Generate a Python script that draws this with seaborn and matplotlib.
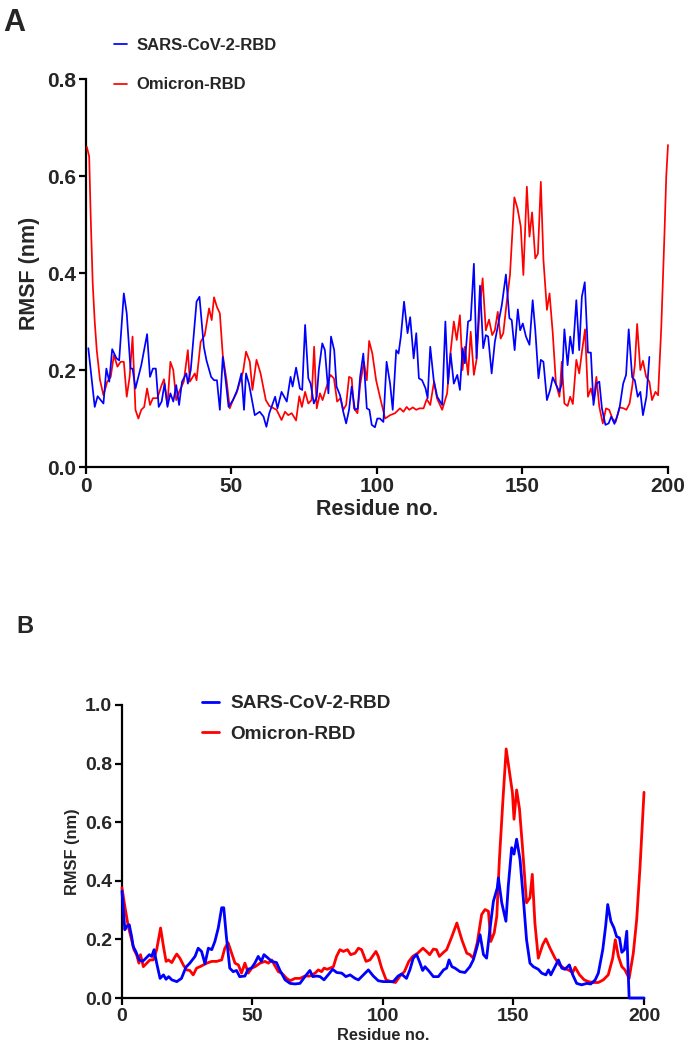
import numpy as np
import pandas as pd
import matplotlib
matplotlib.use("Agg")
import matplotlib.pyplot as plt
import seaborn as sns

# ---- panel A data ----
resA_sars = [0.8, 3, 4, 6, 7, 8, 9, 10.5, 11.4, 13, 14, 15.3, 16, 17, 19, 21, 22, 23, 24, 25,
             26, 27, 28, 29, 30, 31, 32, 33, 34.5, 35, 36, 38, 39, 40.5, 41.4, 43, 44, 45, 46, 47,
             48, 49, 50.5, 52, 53.4, 54.3, 55, 56, 58, 59.7, 61, 62, 63, 65, 65.8, 67.2, 69, 70.3,
             71, 72.2, 73.5, 74.3, 75.3, 76.4, 77.2, 78.3, 79.3, 80, 81.2, 82.1, 83.3, 84.2, 85.3,
             86.1, 87.3, 88.4, 89.4, 90.4, 91.3, 92.4, 93.4, 94.2, 95.3, 96.5, 97.4, 98.2, 99.3,
             100.1, 101, 102.2, 103.3, 104.5, 105.4, 106.6, 107.4, 108.2, 109.3, 110.5, 111.4,
             112.6, 113.5, 114.4, 115.5, 116.7, 117.4, 118.3, 119.5, 120.7, 122.4, 123.5, 124.4,
             125.3, 126.4, 127.6, 128.5, 129.4, 130.2, 131.3, 132.2, 133.3, 134.2, 135.4, 136.5,
             137.4, 138.2, 139.4, 140.5, 141.7, 142.9, 144.3, 145.5, 146.3, 147.3, 148.4, 149.2,
             150.1, 151.2, 152.4, 153.5, 154.4, 155.5, 156.3, 157.2, 158.4, 159.5, 160.4, 161.6,
             162.7, 163.5, 164.4, 165.5, 166.4, 167.3, 168.5, 169.5, 170.4, 171.4, 172.5, 173.5,
             174.4, 175.4, 176.4, 177.3, 178.5, 179.6, 180.5, 181.6, 182.5, 183.4, 184.6, 185.6,
             186.5, 187.7, 188.6, 189.6, 190.5, 191.4, 192.6, 193.6]
rmsfA_sars = [.245, .124, .146, .131, .203, .176, .243, .224, .22, .358, .317, .203, .203, .162,
              .21, .274, .186, .203, .203, .124, .135, .172, .124, .152, .135, .169, .128, .176,
              .193, .172, .2, .341, .351, .248, .22, .186, .179, .179, .118, .227, .179, .124, .138,
              .159, .193, .118, .193, .172, .107, .114, .104, .083, .111, .145, .121, .155, .135,
              .186, .166, .205, .162, .159, .293, .183, .172, .131, .145, .2, .255, .241, .152,
              .269, .241, .166, .148, .114, .09, .118, .166, .118, .121, .186, .234, .121, .118,
              .087, .082, .1, .1, .093, .217, .172, .118, .241, .234, .269, .341, .276, .309, .224,
              .276, .183, .179, .162, .142, .248, .179, .145, .128, .3, .172, .234, .172, .19, .159,
              .245, .214, .3, .303, .419, .224, .374, .245, .272, .269, .193, .258, .296, .334,
              .397, .307, .303, .241, .325, .282, .296, .269, .252, .344, .282, .183, .221, .217,
              .138, .159, .185, .169, .155, .172, .284, .21, .269, .234, .344, .241, .351, .381,
              .236, .236, .128, .172, .176, .121, .087, .09, .104, .089, .104, .124, .172, .19,
              .284, .185, .179, .145, .155, .107, .145, .227]

resA_omi = [0.3, 1.1, 1.6, 2.3, 3.0, 3.7, 4.8, 6, 7.3, 8.5, 9.6, 10.8, 11.9, 13, 14, 15, 16, 17,
            18, 19, 20, 21, 22, 23, 24.5, 26, 26.8, 28, 29, 30, 31, 32, 33.6, 35, 35.7, 37.4, 38,
            39.4, 40.8, 42.3, 43.2, 44, 45, 46, 47, 48.3, 49.4, 50.5, 51.7, 52.9, 54, 55, 56.3,
            57.2, 58.6, 60, 61.8, 63, 65.5, 67.2, 68.4, 69.5, 70.7, 72.2, 73.3, 74.2, 75.3, 76.4,
            77.5, 78.4, 79.3, 80.4, 81.3, 82.7, 84, 85.2, 86.3, 87.5, 88.4, 89.4, 90.4, 91.3, 92.1,
            93.3, 94.2, 95.5, 96.5, 97.3, 98.4, 99.7, 101, 102.8, 104.5, 106.2, 107.9, 109.1,
            110.2, 111.1, 112.3, 113.5, 114.6, 116, 117.1, 118.3, 119.6, 120.6, 122.4, 124.1,
            125.3, 126.4, 127.4, 128.5, 129.4, 130.2, 131.3, 132.2, 133.3, 134.2, 135.2, 136.3,
            137.4, 138.5, 139.6, 140.5, 141.5, 142.5, 143.4, 144.6, 145.7, 147.2, 148.3, 149.4,
            150.3, 151.5, 152.4, 153.3, 154.4, 155.3, 156.3, 157.2, 158.4, 159.3, 160.4, 161.5,
            162.7, 163.5, 164.4, 165.5, 166.4, 167.3, 168.5, 169.5, 170.5, 171.5, 172.5, 173.5,
            174.4, 175.4, 176.4, 177.6, 178.7, 179.8, 180.9, 182, 183.4, 184.8, 185.7, 186.8,
            187.7, 188.6, 189.4, 190.5, 191.4, 192.5, 193.6, 194.5, 195.7, 196.6, 197.7, 198.8,
            199.4, 200]
rmsfA_omi = [.66, .64, .52, .38, .3, .241, .18, .148, .176, .186, .231, .207, .217, .217, .145,
             .186, .269, .118, .1, .118, .124, .162, .128, .142, .142, .169, .181, .128, .217, .2,
             .138, .155, .176, .241, .176, .193, .179, .258, .272, .327, .303, .35, .33, .317,
             .231, .179, .121, .138, .152, .176, .197, .238, .217, .159, .221, .193, .138, .126,
             .118, .097, .114, .107, .111, .096, .146, .124, .155, .131, .138, .248, .121, .152,
             .138, .166, .19, .183, .135, .142, .118, .128, .186, .183, .121, .111, .169, .217,
             .179, .26, .234, .179, .145, .1, .107, .111, .121, .114, .124, .118, .123, .118, .121,
             .121, .14, .128, .176, .142, .118, .152, .238, .3, .262, .313, .2, .248, .19, .279,
             .19, .221, .317, .389, .282, .304, .272, .282, .32, .265, .276, .341, .396, .556,
             .533, .496, .396, .578, .475, .525, .43, .44, .588, .427, .324, .358, .276, .172,
             .145, .217, .131, .126, .145, .13, .221, .193, .241, .284, .145, .162, .138, .186,
             .124, .09, .121, .118, .1, .093, .123, .121, .118, .131, .166, .21, .295, .2, .219,
             .186, .176, .138, .155, .148, .289, .482, .599, .664]

# ---- panel B data ----
resB_sars = [0, 1.1, 1.8, 2.8, 3.7, 4.3, 5.3, 6.6, 7.9, 9.2, 10.5, 11.4, 12.3, 13.3, 14.6, 15.9,
             16.9, 17.9, 19.1, 21, 22.8, 24.5, 26, 28, 29.2, 30.5, 31.8, 33.1, 34.4, 35.6, 36.9,
             38.2, 39, 40, 41.3, 42.6, 43.9, 45.1, 47.1, 48.3, 49.6, 50.9, 52.2, 53.4, 54.4, 56,
             57.3, 59.2, 60.5, 62.5, 64.4, 66.3, 68.2, 70.1, 72, 73.1, 74.6, 75.9, 77.4, 79, 80.7,
             82.3, 84.2, 85.8, 87.4, 89.3, 90.6, 92.5, 94.4, 96.3, 98.2, 100.1, 102, 103.9, 105.8,
             107.1, 109, 110.3, 111.6, 112.9, 114.2, 115.2, 116.1, 117.8, 119.3, 121.2, 123.2,
             124.4, 125.3, 126.4, 127.6, 129.5, 131.4, 133.3, 134.6, 135.9, 137.2, 138.5, 139.7,
             140.8, 142.3, 143.8, 144.2, 145.5, 147.1, 148, 149.3, 150.2, 151.2, 152.5, 153.8,
             155, 156.3, 157.6, 159.5, 160.8, 162.4, 163.4, 164.3, 165.9, 167.2, 168.5, 169.7,
             171.4, 172.7, 174.2, 176.1, 178.1, 179.6, 181.3, 182.5, 184.2, 185.3, 186.1, 187.3,
             188.5, 189.5, 190.6, 191.5, 192.5, 193.4, 194.3, 196, 198, 200]
rmsfB_sars = [.365, .233, .245, .25, .21, .176, .159, .13, .125, .136, .148, .142, .165, .119,
              .067, .079, .064, .073, .062, .056, .067, .105, .119, .142, .17, .159, .117, .17,
              .165, .193, .239, .308, .308, .21, .102, .09, .094, .073, .075, .098, .102, .119,
              .142, .125, .148, .136, .125, .121, .095, .062, .05, .048, .05, .073, .094, .073,
              .075, .073, .062, .079, .098, .087, .085, .073, .079, .067, .062, .079, .096, .075,
              .059, .056, .056, .056, .075, .082, .067, .096, .136, .148, .119, .094, .107, .09,
              .073, .073, .096, .102, .13, .107, .102, .09, .087, .107, .13, .17, .216, .148, .136,
              .222, .33, .376, .41, .325, .262, .382, .513, .491, .542, .473, .336, .199, .119,
              .107, .098, .085, .079, .096, .079, .107, .13, .102, .098, .113, .079, .05, .045, .05,
              .048, .062, .085, .165, .245, .319, .262, .239, .21, .205, .156, .165, .228, 0, 0, 0, 0]

resB_omi = [0, 1.1, 2.4, 3.7, 4.6, 5.6, 6.5, 7.1, 8.2, 9.5, 10.7, 12, 13.3, 14.8, 15.9, 16.9,
            17.8, 19.1, 20.4, 21, 22.2, 23.5, 24.8, 26, 27.3, 28.6, 29.9, 31.2, 32.5, 34.4, 36.3,
            38.2, 39.4, 40.7, 42, 43.3, 44.6, 45.8, 47.1, 48.4, 49.7, 51, 52.9, 54.8, 56.1, 57.4,
            58.6, 59.9, 61.2, 63.1, 64.4, 66.3, 68.2, 70.1, 72, 74, 75.2, 76.5, 77.4, 78.7, 79.7,
            81, 82.2, 83.5, 84.8, 86.4, 87.6, 89.3, 90.6, 91.8, 93.5, 95, 97.3, 98.2, 99.5, 101.2,
            103.1, 104.8, 106.5, 108.2, 109.9, 111.4, 113.3, 115.3, 116.7, 117.9, 119.3, 120.5,
            121.6, 123.2, 124.4, 126.4, 128.3, 130.2, 132.1, 133.3, 134.6, 136.1, 137.8, 139.1,
            140.4, 141.3, 142.6, 143.6, 144.6, 145.9, 147.2, 148.7, 149.6, 150.2, 151.2, 152.3,
            153.5, 155, 156.3, 157.2, 158.2, 159.5, 161.2, 162.4, 164, 165.9, 167.6, 169.3, 171,
            172.7, 173.6, 175.3, 177.1, 178.7, 180.6, 182.5, 184.4, 186.3, 188, 189, 190.2, 191.5,
            192.7, 194.3, 195.9, 197.2, 198.5, 200]
rmsfB_omi = [.376, .313, .245, .199, .165, .148, .119, .148, .107, .119, .13, .13, .165, .239,
             .176, .125, .13, .121, .142, .15, .136, .113, .096, .094, .079, .102, .107, .113,
             .119, .125, .125, .13, .17, .188, .153, .119, .113, .085, .119, .085, .102, .107,
             .119, .125, .119, .13, .11, .09, .085, .067, .059, .067, .067, .075, .075, .085, .096,
             .09, .102, .098, .102, .107, .142, .165, .159, .165, .148, .153, .17, .165, .125, .13,
             .159, .142, .102, .062, .056, .053, .075, .09, .125, .142, .153, .17, .159, .148,
             .167, .165, .142, .156, .165, .21, .256, .199, .153, .148, .136, .188, .285, .302,
             .296, .193, .222, .279, .473, .668, .85, .755, .70, .61, .71, .645, .508, .325, .342,
             .422, .256, .136, .182, .202, .17, .136, .113, .102, .096, .087, .105, .079, .062,
             .056, .053, .053, .062, .079, .136, .199, .142, .107, .096, .067, .153, .268, .451,
             .702]

sns.set_style("ticks")
plt.rcParams['font.family'] = ['Liberation Sans', 'DejaVu Sans']
plt.rcParams['font.weight'] = 'bold'
plt.rcParams['axes.labelweight'] = 'bold'

fig = plt.figure(figsize=(6.89, 10.55), dpi=100)
axA = fig.add_axes([0.1248, 0.5573, 0.8447, 0.3678])
axB = fig.add_axes([0.177, 0.054, 0.7577, 0.2778])


def draw(ax, x1, y1, x2, y2, lw):
    sns.lineplot(x=x1, y=y1, color='#0000ff', lw=lw, label='SARS-CoV-2-RBD',
                 ax=ax, estimator=None, clip_on=False, zorder=4)
    sns.lineplot(x=x2, y=y2, color='#ff0000', lw=lw, label='Omicron-RBD',
                 ax=ax, estimator=None, clip_on=False, zorder=3)
    ax.set_xlim(0, 200)
    ax.set_xticks([0, 50, 100, 150, 200])
    sns.despine(ax=ax)
    for s in ['left', 'bottom']:
        ax.spines[s].set_linewidth(1.6)
        ax.spines[s].set_color('black')
    ax.tick_params(width=1.6, length=5, color='black', labelsize=15, pad=2)


draw(axA, resA_sars, rmsfA_sars, resA_omi, rmsfA_omi, 1.25)
axA.set_ylim(0, 0.8)
axA.set_yticks([0, 0.2, 0.4, 0.6, 0.8])
axA.set_xlabel('Residue no.', fontsize=15.5, labelpad=2)
axA.set_ylabel('RMSF (nm)', fontsize=15.5, labelpad=5)
axA.legend(loc='upper left', bbox_to_anchor=(114 / 689, 1 - 37.5 / 1055),
           bbox_transform=fig.transFigure, frameon=False, fontsize=12,
           handlelength=0.8, handletextpad=0.55, labelspacing=1.49, borderpad=0,
           borderaxespad=0)

draw(axB, resB_sars, rmsfB_sars, resB_omi, rmsfB_omi, 2.0)
axB.set_ylim(0, 1.0)
axB.set_yticks([0, 0.2, 0.4, 0.6, 0.8, 1.0])
axB.tick_params(labelsize=14)
axB.set_xlabel('Residue no.', fontsize=11.8, labelpad=2)
axB.set_ylabel('RMSF (nm)', fontsize=11.8, labelpad=4)
axB.legend(loc='upper left', bbox_to_anchor=(202 / 689, 1 - 695 / 1055),
           bbox_transform=fig.transFigure, frameon=False, fontsize=13.7,
           handlelength=0.9, handletextpad=0.6, labelspacing=0.71, borderpad=0,
           borderaxespad=0)

fig.text(3 / 689, 1 - 31 / 1055, 'A', fontsize=22, fontweight='bold')
fig.text(16 / 689, 1 - 633 / 1055, 'B', fontsize=17, fontweight='bold')

fig.savefig('out.png', dpi=100)
